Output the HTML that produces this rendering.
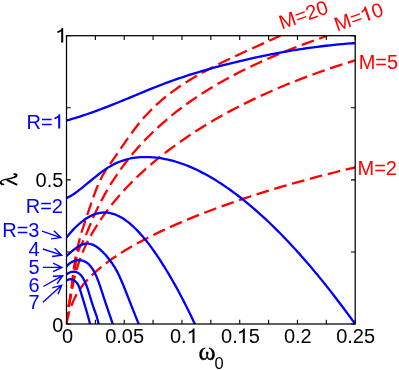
<!DOCTYPE html>
<html><head><meta charset="utf-8"><title>chart</title>
<style>
html,body{margin:0;padding:0;background:#fff;}
svg{display:block;will-change:transform;}
text{font-family:"Liberation Sans",sans-serif;}
</style></head><body>
<svg width="399" height="370" viewBox="0 0 399 370">
<rect width="399" height="370" fill="#fff"/>
<defs><clipPath id="cp"><rect x="66.5" y="35.7" width="288.7" height="288.3"/></clipPath></defs>
<g fill="none" stroke="#ff0000" stroke-width="2.3" clip-path="url(#cp)" stroke-dasharray="13.2 5.8">
<path d="M66.50 324.00 C66.51 323.91 66.52 323.69 66.54 323.46 C66.57 323.23 66.60 322.96 66.65 322.65 C66.70 322.34 66.76 321.99 66.83 321.60 C66.90 321.22 66.98 320.79 67.08 320.34 C67.18 319.89 67.29 319.39 67.41 318.88 C67.53 318.37 67.66 317.82 67.81 317.25 C67.96 316.68 68.12 316.08 68.29 315.46 C68.46 314.84 68.64 314.20 68.83 313.54 C69.02 312.88 69.23 312.20 69.45 311.51 C69.67 310.82 69.90 310.11 70.14 309.39 C70.38 308.67 70.64 307.93 70.91 307.19 C71.18 306.45 71.46 305.70 71.75 304.95 C72.04 304.20 72.34 303.44 72.66 302.68 C72.97 301.92 73.30 301.16 73.64 300.40 C73.98 299.64 74.34 298.89 74.70 298.14 C75.06 297.39 75.44 296.65 75.83 295.91 C76.22 295.18 76.62 294.45 77.03 293.73 C77.44 293.01 77.87 292.31 78.31 291.61 C78.75 290.91 79.20 290.22 79.66 289.54 C80.12 288.86 80.59 288.19 81.08 287.52 C81.56 286.85 82.06 286.19 82.57 285.53 C83.08 284.87 83.61 284.22 84.14 283.58 C84.67 282.94 85.22 282.30 85.78 281.66 C86.34 281.02 86.91 280.39 87.49 279.76 C88.07 279.13 88.67 278.51 89.28 277.89 C89.89 277.27 90.51 276.65 91.14 276.03 C91.77 275.41 92.41 274.79 93.07 274.17 C93.72 273.55 94.39 272.94 95.07 272.33 C95.75 271.72 96.45 271.10 97.15 270.49 C97.86 269.88 98.57 269.26 99.30 268.65 C100.03 268.04 100.78 267.43 101.53 266.82 C102.28 266.21 103.04 265.61 103.82 265.00 C104.60 264.39 105.39 263.79 106.19 263.18 C106.99 262.57 107.80 261.97 108.63 261.37 C109.46 260.77 110.30 260.16 111.15 259.56 C112.00 258.96 112.86 258.36 113.74 257.76 C114.61 257.16 115.50 256.56 116.40 255.96 C117.30 255.36 118.21 254.76 119.13 254.16 C120.05 253.56 120.99 252.97 121.94 252.37 C122.89 251.78 123.85 251.19 124.82 250.59 C125.79 250.00 126.77 249.39 127.77 248.80 C128.76 248.21 129.77 247.62 130.79 247.03 C131.81 246.44 132.84 245.84 133.89 245.25 C134.94 244.66 135.99 244.07 137.06 243.48 C138.13 242.89 139.22 242.30 140.31 241.71 C141.40 241.12 142.50 240.53 143.62 239.94 C144.74 239.35 145.87 238.77 147.01 238.18 C148.15 237.59 149.30 237.01 150.47 236.42 C151.64 235.83 152.82 235.25 154.01 234.66 C155.20 234.07 156.41 233.50 157.62 232.91 C158.84 232.32 160.06 231.74 161.30 231.15 C162.54 230.56 163.79 229.98 165.05 229.40 C166.31 228.82 167.59 228.23 168.88 227.65 C170.17 227.07 171.47 226.48 172.78 225.90 C174.09 225.32 175.41 224.73 176.75 224.15 C178.09 223.57 179.44 222.99 180.80 222.41 C182.16 221.83 183.53 221.24 184.92 220.66 C186.30 220.08 187.70 219.50 189.11 218.92 C190.52 218.34 191.94 217.76 193.37 217.18 C194.80 216.60 196.25 216.02 197.71 215.44 C199.17 214.86 200.64 214.28 202.12 213.70 C203.60 213.12 205.09 212.54 206.60 211.96 C208.11 211.38 209.63 210.81 211.16 210.23 C212.69 209.65 214.23 209.07 215.79 208.50 C217.34 207.93 218.91 207.35 220.49 206.78 C222.07 206.21 223.66 205.62 225.26 205.05 C226.86 204.48 228.48 203.91 230.11 203.34 C231.74 202.77 233.38 202.19 235.03 201.62 C236.68 201.05 238.35 200.48 240.03 199.91 C241.71 199.34 243.39 198.78 245.09 198.21 C246.79 197.64 248.50 197.07 250.23 196.51 C251.95 195.94 253.69 195.38 255.44 194.82 C257.19 194.26 258.96 193.70 260.73 193.14 C262.50 192.58 264.29 192.02 266.09 191.46 C267.89 190.90 269.70 190.34 271.52 189.79 C273.34 189.23 275.17 188.68 277.02 188.13 C278.87 187.58 280.73 187.02 282.60 186.47 C284.47 185.92 286.36 185.38 288.25 184.83 C290.14 184.28 292.05 183.74 293.97 183.19 C295.89 182.64 297.82 182.10 299.76 181.56 C301.70 181.02 303.66 180.48 305.63 179.94 C307.60 179.40 309.58 178.87 311.57 178.33 C313.56 177.80 315.57 177.26 317.59 176.73 C319.61 176.20 321.63 175.67 323.67 175.14 C325.71 174.61 327.76 174.08 329.83 173.56 C331.90 173.04 333.98 172.52 336.07 172.00 C338.16 171.48 340.26 170.96 342.37 170.44 C344.48 169.92 346.61 169.41 348.75 168.90 C350.89 168.39 354.12 167.62 355.20 167.36" stroke-dasharray="12.86 5.64" stroke-dashoffset="18.24"/>
<path d="M66.50 324.00 C66.51 323.99 66.52 324.07 66.54 323.94 C66.57 323.81 66.60 323.54 66.65 323.19 C66.70 322.84 66.76 322.38 66.83 321.83 C66.90 321.28 66.98 320.62 67.08 319.89 C67.18 319.16 67.29 318.33 67.41 317.44 C67.53 316.55 67.66 315.58 67.81 314.54 C67.96 313.50 68.12 312.39 68.29 311.23 C68.46 310.07 68.64 308.85 68.83 307.58 C69.02 306.31 69.23 304.99 69.45 303.63 C69.67 302.27 69.90 300.87 70.14 299.45 C70.38 298.03 70.64 296.56 70.91 295.09 C71.18 293.62 71.46 292.11 71.75 290.60 C72.04 289.09 72.34 287.56 72.66 286.04 C72.97 284.52 73.30 282.99 73.64 281.47 C73.98 279.95 74.34 278.44 74.70 276.94 C75.06 275.44 75.44 273.96 75.83 272.50 C76.22 271.04 76.62 269.61 77.03 268.20 C77.44 266.79 77.87 265.42 78.31 264.07 C78.75 262.72 79.20 261.39 79.66 260.09 C80.12 258.78 80.59 257.50 81.08 256.24 C81.56 254.98 82.06 253.74 82.57 252.51 C83.08 251.28 83.61 250.07 84.14 248.87 C84.67 247.67 85.22 246.49 85.78 245.32 C86.34 244.15 86.91 242.99 87.49 241.84 C88.07 240.69 88.67 239.55 89.28 238.42 C89.89 237.28 90.51 236.16 91.14 235.03 C91.77 233.91 92.41 232.79 93.07 231.67 C93.72 230.55 94.39 229.44 95.07 228.33 C95.75 227.22 96.45 226.11 97.15 225.00 C97.86 223.89 98.57 222.78 99.30 221.68 C100.03 220.58 100.78 219.48 101.53 218.39 C102.28 217.29 103.04 216.20 103.82 215.11 C104.60 214.02 105.39 212.93 106.19 211.84 C106.99 210.75 107.80 209.67 108.63 208.59 C109.46 207.51 110.30 206.43 111.15 205.36 C112.00 204.29 112.86 203.22 113.74 202.15 C114.61 201.08 115.50 200.01 116.40 198.95 C117.30 197.89 118.21 196.83 119.13 195.77 C120.05 194.71 120.99 193.65 121.94 192.60 C122.89 191.55 123.85 190.50 124.82 189.45 C125.79 188.40 126.77 187.36 127.77 186.32 C128.76 185.28 129.77 184.24 130.79 183.20 C131.81 182.16 132.84 181.13 133.89 180.10 C134.94 179.07 135.99 178.05 137.06 177.02 C138.13 176.00 139.22 174.97 140.31 173.95 C141.40 172.93 142.50 171.91 143.62 170.90 C144.74 169.89 145.87 168.87 147.01 167.86 C148.15 166.85 149.30 165.85 150.47 164.85 C151.64 163.85 152.82 162.85 154.01 161.85 C155.20 160.85 156.41 159.85 157.62 158.86 C158.84 157.87 160.06 156.88 161.30 155.89 C162.54 154.90 163.79 153.93 165.05 152.95 C166.31 151.97 167.59 150.98 168.88 150.01 C170.17 149.03 171.47 148.07 172.78 147.10 C174.09 146.13 175.41 145.17 176.75 144.21 C178.09 143.25 179.44 142.29 180.80 141.33 C182.16 140.38 183.53 139.43 184.92 138.48 C186.30 137.53 187.70 136.58 189.11 135.64 C190.52 134.70 191.94 133.76 193.37 132.83 C194.80 131.90 196.25 130.97 197.71 130.04 C199.17 129.11 200.64 128.19 202.12 127.27 C203.60 126.35 205.09 125.43 206.60 124.52 C208.11 123.61 209.63 122.70 211.16 121.79 C212.69 120.89 214.23 119.99 215.79 119.09 C217.34 118.19 218.91 117.30 220.49 116.41 C222.07 115.52 223.66 114.64 225.26 113.76 C226.86 112.88 228.48 112.00 230.11 111.13 C231.74 110.26 233.38 109.38 235.03 108.52 C236.68 107.66 238.35 106.80 240.03 105.94 C241.71 105.08 243.39 104.23 245.09 103.38 C246.79 102.53 248.50 101.70 250.23 100.86 C251.95 100.02 253.69 99.18 255.44 98.35 C257.19 97.52 258.96 96.70 260.73 95.88 C262.50 95.06 264.29 94.24 266.09 93.43 C267.89 92.62 269.70 91.81 271.52 91.01 C273.34 90.21 275.17 89.41 277.02 88.62 C278.87 87.83 280.73 87.03 282.60 86.25 C284.47 85.47 286.36 84.69 288.25 83.92 C290.14 83.15 292.05 82.38 293.97 81.62 C295.89 80.86 297.82 80.09 299.76 79.34 C301.70 78.59 303.66 77.84 305.63 77.10 C307.60 76.36 309.58 75.62 311.57 74.89 C313.56 74.16 315.57 73.43 317.59 72.71 C319.61 71.99 321.63 71.27 323.67 70.56 C325.71 69.85 327.76 69.14 329.83 68.44 C331.90 67.74 333.98 67.05 336.07 66.36 C338.16 65.67 340.26 64.99 342.37 64.31 C344.48 63.63 346.61 62.97 348.75 62.30 C350.89 61.63 354.12 60.64 355.20 60.31" stroke-dasharray="12.95 5.70" stroke-dashoffset="1.25"/>
<path d="M66.50 324.00 C66.50 323.49 66.51 321.88 66.53 320.93 C66.55 319.98 66.58 319.13 66.63 318.31 C66.67 317.49 66.73 316.75 66.80 316.03 C66.87 315.31 66.94 314.64 67.03 313.98 C67.12 313.32 67.21 312.69 67.32 312.05 C67.43 311.41 67.55 310.79 67.68 310.14 C67.81 309.49 67.96 308.84 68.11 308.14 C68.26 307.44 68.42 306.72 68.60 305.93 C68.77 305.14 68.96 304.33 69.16 303.43 C69.36 302.53 69.57 301.57 69.79 300.51 C70.01 299.45 70.24 298.32 70.48 297.07 C70.72 295.82 70.97 294.49 71.23 293.01 C71.49 291.53 71.77 289.95 72.05 288.21 C72.33 286.47 72.63 284.61 72.94 282.57 C73.25 280.53 73.56 278.32 73.89 275.97 C74.22 273.62 74.56 270.94 74.91 268.46 C75.26 265.98 75.63 263.30 76.00 261.09 C76.37 258.88 76.76 256.91 77.15 255.21 C77.54 253.51 77.94 252.14 78.36 250.88 C78.78 249.62 79.20 248.61 79.64 247.62 C80.08 246.63 80.53 245.83 80.99 244.96 C81.45 244.09 81.93 243.33 82.41 242.42 C82.89 241.51 83.38 240.57 83.88 239.52 C84.38 238.47 84.90 237.33 85.43 236.14 C85.96 234.95 86.49 233.68 87.04 232.37 C87.59 231.06 88.14 229.69 88.71 228.31 C89.28 226.93 89.87 225.50 90.46 224.08 C91.05 222.66 91.65 221.21 92.26 219.78 C92.87 218.35 93.50 216.92 94.14 215.50 C94.78 214.08 95.42 212.67 96.08 211.27 C96.74 209.87 97.40 208.48 98.08 207.09 C98.76 205.70 99.45 204.32 100.15 202.95 C100.85 201.58 101.57 200.22 102.29 198.86 C103.01 197.51 103.74 196.16 104.49 194.82 C105.23 193.48 105.99 192.14 106.76 190.82 C107.53 189.50 108.30 188.18 109.09 186.87 C109.88 185.56 110.68 184.25 111.49 182.96 C112.30 181.67 113.12 180.38 113.95 179.10 C114.78 177.82 115.62 176.55 116.48 175.28 C117.34 174.01 118.20 172.76 119.08 171.51 C119.96 170.26 120.84 169.01 121.74 167.78 C122.64 166.55 123.55 165.32 124.47 164.10 C125.39 162.88 126.32 161.67 127.26 160.46 C128.20 159.25 129.16 158.06 130.12 156.87 C131.09 155.68 132.06 154.50 133.05 153.32 C134.04 152.14 135.03 150.98 136.04 149.82 C137.05 148.66 138.06 147.51 139.09 146.36 C140.12 145.22 141.16 144.08 142.21 142.95 C143.26 141.82 144.33 140.70 145.40 139.58 C146.47 138.46 147.56 137.35 148.66 136.25 C149.75 135.15 150.85 134.06 151.97 132.97 C153.09 131.88 154.22 130.80 155.36 129.73 C156.50 128.66 157.65 127.59 158.81 126.53 C159.97 125.47 161.15 124.42 162.33 123.38 C163.51 122.34 164.70 121.30 165.91 120.27 C167.12 119.24 168.33 118.22 169.56 117.20 C170.79 116.19 172.02 115.18 173.27 114.18 C174.52 113.18 175.78 112.19 177.05 111.20 C178.32 110.21 179.60 109.23 180.89 108.26 C182.18 107.29 183.49 106.32 184.80 105.36 C186.12 104.40 187.44 103.45 188.78 102.50 C190.12 101.55 191.46 100.61 192.82 99.68 C194.18 98.75 195.55 97.82 196.93 96.90 C198.31 95.98 199.70 95.07 201.10 94.16 C202.50 93.25 203.91 92.35 205.34 91.45 C206.77 90.55 208.20 89.66 209.65 88.78 C211.10 87.90 212.55 87.02 214.02 86.15 C215.49 85.28 216.96 84.41 218.45 83.55 C219.94 82.69 221.45 81.84 222.96 80.99 C224.47 80.14 225.99 79.30 227.52 78.46 C229.05 77.62 230.60 76.80 232.16 75.97 C233.72 75.14 235.28 74.32 236.86 73.50 C238.44 72.68 240.02 71.88 241.62 71.07 C243.22 70.26 244.83 69.46 246.45 68.67 C248.07 67.88 249.71 67.09 251.35 66.31 C252.99 65.53 254.65 64.75 256.31 63.97 C257.98 63.20 259.65 62.42 261.34 61.66 C263.03 60.89 264.72 60.14 266.43 59.38 C268.14 58.62 269.86 57.88 271.59 57.13 C273.32 56.38 275.07 55.64 276.82 54.90 C278.57 54.16 280.34 53.44 282.11 52.71 C283.88 51.98 285.66 51.25 287.46 50.53 C289.26 49.81 291.07 49.10 292.89 48.39 C294.71 47.68 296.53 46.97 298.37 46.27 C300.21 45.57 302.07 44.87 303.93 44.17 C305.79 43.48 307.67 42.79 309.55 42.10 C311.43 41.41 313.33 40.72 315.23 40.04 C317.13 39.36 319.05 38.68 320.98 38.01 C322.91 37.34 325.83 36.34 326.80 36.01" stroke-dasharray="12.95 5.65" stroke-dashoffset="1.30"/>
<path d="M66.50 324.00 C66.50 323.60 66.51 322.35 66.53 321.60 C66.55 320.85 66.58 320.17 66.61 319.52 C66.64 318.87 66.69 318.27 66.74 317.68 C66.79 317.09 66.86 316.52 66.93 315.96 C67.00 315.39 67.09 314.86 67.18 314.29 C67.27 313.72 67.36 313.15 67.47 312.54 C67.58 311.93 67.69 311.32 67.82 310.64 C67.95 309.96 68.09 309.26 68.23 308.48 C68.38 307.70 68.53 306.88 68.69 305.96 C68.85 305.04 69.02 304.06 69.20 302.98 C69.38 301.90 69.57 300.74 69.77 299.45 C69.97 298.16 70.17 296.79 70.39 295.27 C70.61 293.75 70.83 292.12 71.07 290.34 C71.30 288.56 71.55 286.61 71.80 284.57 C72.05 282.53 72.31 280.27 72.58 278.08 C72.85 275.88 73.13 273.57 73.42 271.40 C73.71 269.23 74.00 267.10 74.31 265.07 C74.62 263.04 74.93 261.11 75.25 259.23 C75.57 257.35 75.91 255.54 76.25 253.79 C76.59 252.04 76.95 250.36 77.31 248.72 C77.67 247.08 78.03 245.49 78.41 243.94 C78.79 242.39 79.18 240.88 79.58 239.40 C79.98 237.92 80.38 236.47 80.79 235.03 C81.20 233.59 81.63 232.19 82.06 230.78 C82.49 229.37 82.94 227.98 83.39 226.58 C83.84 225.18 84.29 223.78 84.76 222.37 C85.23 220.96 85.71 219.55 86.20 218.10 C86.69 216.65 87.18 215.19 87.68 213.69 C88.18 212.19 88.70 210.66 89.22 209.11 C89.74 207.56 90.28 205.97 90.82 204.39 C91.36 202.80 91.90 201.19 92.46 199.60 C93.02 198.01 93.59 196.40 94.17 194.83 C94.75 193.26 95.33 191.69 95.92 190.16 C96.51 188.63 97.12 187.13 97.73 185.68 C98.34 184.23 98.97 182.81 99.60 181.46 C100.23 180.11 100.86 178.82 101.51 177.58 C102.16 176.34 102.82 175.16 103.49 174.01 C104.16 172.86 104.83 171.77 105.51 170.68 C106.19 169.59 106.89 168.54 107.59 167.49 C108.29 166.44 109.01 165.42 109.73 164.39 C110.45 163.36 111.18 162.34 111.92 161.29 C112.66 160.24 113.41 159.19 114.16 158.11 C114.91 157.03 115.68 155.93 116.45 154.81 C117.22 153.69 118.01 152.54 118.80 151.39 C119.59 150.23 120.40 149.06 121.21 147.88 C122.02 146.70 122.84 145.50 123.67 144.30 C124.50 143.10 125.33 141.88 126.18 140.67 C127.03 139.46 127.89 138.23 128.75 137.02 C129.62 135.81 130.49 134.60 131.37 133.39 C132.25 132.18 133.14 130.97 134.04 129.78 C134.94 128.59 135.85 127.39 136.77 126.22 C137.69 125.05 138.61 123.88 139.55 122.74 C140.49 121.60 141.44 120.48 142.39 119.37 C143.34 118.26 144.31 117.17 145.28 116.10 C146.25 115.03 147.24 113.97 148.23 112.93 C149.22 111.89 150.21 110.86 151.22 109.85 C152.23 108.84 153.25 107.85 154.28 106.87 C155.31 105.89 156.33 104.92 157.38 103.97 C158.43 103.02 159.49 102.08 160.55 101.16 C161.61 100.24 162.68 99.33 163.76 98.43 C164.84 97.53 165.93 96.64 167.03 95.77 C168.13 94.90 169.23 94.04 170.35 93.19 C171.47 92.34 172.59 91.50 173.73 90.67 C174.86 89.84 176.01 89.03 177.16 88.22 C178.31 87.41 179.48 86.61 180.65 85.82 C181.82 85.03 183.00 84.26 184.19 83.49 C185.38 82.72 186.57 81.95 187.78 81.20 C188.99 80.45 190.21 79.70 191.43 78.96 C192.66 78.22 193.89 77.49 195.13 76.76 C196.37 76.03 197.62 75.31 198.88 74.60 C200.14 73.89 201.41 73.18 202.69 72.48 C203.97 71.78 205.26 71.08 206.56 70.39 C207.86 69.70 209.16 69.00 210.47 68.32 C211.78 67.63 213.11 66.96 214.44 66.28 C215.77 65.60 217.12 64.93 218.47 64.26 C219.82 63.59 221.18 62.92 222.55 62.25 C223.92 61.58 225.29 60.91 226.68 60.25 C228.07 59.59 229.47 58.92 230.87 58.26 C232.28 57.60 233.69 56.93 235.11 56.27 C236.53 55.61 237.97 54.94 239.41 54.28 C240.85 53.62 242.30 52.96 243.76 52.29 C245.22 51.62 246.68 50.95 248.16 50.28 C249.64 49.61 251.12 48.94 252.62 48.26 C254.12 47.58 255.62 46.91 257.13 46.23 C258.64 45.55 260.17 44.86 261.70 44.17 C263.23 43.48 264.77 42.78 266.32 42.08 C267.87 41.38 269.42 40.68 270.99 39.97 C272.56 39.26 274.14 38.54 275.72 37.82 C277.31 37.10 279.70 36.00 280.50 35.63" stroke-dasharray="13.00 5.70" stroke-dashoffset="0.90"/>
</g>
<g fill="none" stroke="#0000ff" stroke-width="2.3" clip-path="url(#cp)" stroke-linejoin="round">
<path d="M66.50 120.45 C67.20 120.26 69.29 119.70 70.68 119.30 C72.08 118.90 73.48 118.49 74.87 118.07 C76.27 117.65 77.66 117.23 79.05 116.79 C80.44 116.35 81.84 115.90 83.24 115.44 C84.63 114.98 86.03 114.51 87.42 114.03 C88.81 113.55 90.20 113.07 91.60 112.58 C92.99 112.09 94.40 111.58 95.79 111.07 C97.19 110.56 98.58 110.05 99.97 109.53 C101.36 109.01 102.77 108.47 104.16 107.94 C105.55 107.41 106.95 106.87 108.34 106.32 C109.73 105.77 111.12 105.22 112.52 104.66 C113.91 104.10 115.31 103.54 116.71 102.98 C118.10 102.42 119.50 101.85 120.89 101.28 C122.28 100.71 123.69 100.14 125.08 99.56 C126.47 98.98 127.87 98.41 129.26 97.83 C130.65 97.25 132.04 96.66 133.44 96.08 C134.84 95.50 136.23 94.92 137.63 94.34 C139.03 93.76 140.41 93.18 141.81 92.60 C143.21 92.02 144.60 91.45 146.00 90.88 C147.40 90.31 148.78 89.73 150.18 89.17 C151.58 88.61 152.97 88.04 154.37 87.49 C155.77 86.94 157.16 86.38 158.55 85.84 C159.94 85.30 161.33 84.76 162.73 84.23 C164.12 83.70 165.52 83.18 166.92 82.66 C168.31 82.14 169.70 81.63 171.10 81.13 C172.50 80.63 173.89 80.14 175.29 79.65 C176.69 79.16 178.08 78.69 179.47 78.21 C180.86 77.73 182.25 77.26 183.65 76.80 C185.05 76.34 186.44 75.88 187.84 75.43 C189.24 74.98 190.62 74.54 192.02 74.10 C193.42 73.66 194.81 73.23 196.21 72.80 C197.61 72.37 199.00 71.96 200.39 71.54 C201.78 71.12 203.17 70.72 204.57 70.31 C205.97 69.91 207.36 69.50 208.76 69.11 C210.16 68.72 211.54 68.33 212.94 67.94 C214.34 67.55 215.73 67.17 217.13 66.80 C218.53 66.42 219.92 66.05 221.31 65.69 C222.70 65.33 224.09 64.97 225.49 64.61 C226.89 64.25 228.28 63.90 229.68 63.55 C231.08 63.20 232.47 62.86 233.86 62.52 C235.26 62.18 236.66 61.84 238.05 61.51 C239.44 61.18 240.84 60.84 242.23 60.52 C243.62 60.20 245.01 59.88 246.41 59.56 C247.81 59.24 249.20 58.93 250.60 58.62 C252.00 58.31 253.38 58.00 254.78 57.70 C256.18 57.40 257.58 57.10 258.97 56.80 C260.37 56.50 261.76 56.21 263.15 55.92 C264.54 55.63 265.94 55.35 267.33 55.07 C268.72 54.79 270.12 54.51 271.52 54.24 C272.91 53.97 274.31 53.70 275.70 53.44 C277.09 53.18 278.50 52.92 279.89 52.66 C281.28 52.40 282.68 52.15 284.07 51.90 C285.46 51.65 286.87 51.41 288.26 51.17 C289.65 50.93 291.05 50.69 292.44 50.46 C293.83 50.23 295.23 50.00 296.62 49.78 C298.01 49.56 299.42 49.33 300.81 49.12 C302.20 48.91 303.60 48.70 304.99 48.49 C306.38 48.29 307.79 48.09 309.18 47.89 C310.57 47.69 311.97 47.50 313.36 47.31 C314.75 47.12 316.15 46.95 317.54 46.77 C318.94 46.59 320.34 46.41 321.73 46.24 C323.12 46.07 324.52 45.91 325.91 45.75 C327.31 45.59 328.71 45.43 330.10 45.28 C331.50 45.13 332.89 44.99 334.28 44.85 C335.67 44.71 337.06 44.57 338.46 44.44 C339.85 44.31 341.25 44.18 342.65 44.06 C344.04 43.94 345.44 43.81 346.83 43.70 C348.22 43.59 349.62 43.48 351.02 43.38 C352.41 43.28 354.50 43.14 355.20 43.09"/>
<path d="M66.50 198.18 C67.20 197.80 69.29 196.73 70.68 195.90 C72.08 195.07 73.48 194.16 74.87 193.20 C76.27 192.24 77.66 191.22 79.05 190.17 C80.44 189.12 81.84 188.02 83.24 186.90 C84.63 185.78 86.03 184.63 87.42 183.48 C88.81 182.33 90.20 181.16 91.60 180.00 C92.99 178.84 94.40 177.68 95.79 176.55 C97.19 175.42 98.58 174.31 99.97 173.24 C101.36 172.17 102.77 171.13 104.16 170.15 C105.55 169.17 106.95 168.23 108.34 167.36 C109.73 166.49 111.12 165.69 112.52 164.95 C113.91 164.21 115.31 163.53 116.71 162.91 C118.10 162.29 119.50 161.72 120.89 161.21 C122.28 160.70 123.69 160.24 125.08 159.83 C126.47 159.42 127.87 159.06 129.26 158.75 C130.65 158.44 132.04 158.17 133.44 157.95 C134.84 157.73 136.23 157.55 137.63 157.41 C139.03 157.27 140.41 157.17 141.81 157.11 C143.21 157.05 144.60 157.03 146.00 157.03 C147.40 157.03 148.78 157.07 150.18 157.14 C151.58 157.21 152.97 157.31 154.37 157.44 C155.77 157.57 157.16 157.72 158.55 157.91 C159.94 158.10 161.33 158.31 162.73 158.56 C164.12 158.81 165.52 159.08 166.92 159.38 C168.31 159.68 169.70 160.01 171.10 160.37 C172.50 160.73 173.89 161.11 175.29 161.52 C176.69 161.93 178.08 162.36 179.47 162.82 C180.86 163.28 182.25 163.78 183.65 164.29 C185.05 164.80 186.44 165.34 187.84 165.90 C189.24 166.46 190.62 167.06 192.02 167.67 C193.42 168.28 194.81 168.91 196.21 169.57 C197.61 170.23 199.00 170.91 200.39 171.62 C201.78 172.33 203.17 173.05 204.57 173.80 C205.97 174.55 207.36 175.33 208.76 176.12 C210.16 176.91 211.54 177.72 212.94 178.56 C214.34 179.40 215.73 180.25 217.13 181.13 C218.53 182.01 219.92 182.91 221.31 183.82 C222.70 184.73 224.09 185.67 225.49 186.62 C226.89 187.57 228.28 188.55 229.68 189.54 C231.08 190.53 232.47 191.54 233.86 192.57 C235.26 193.60 236.66 194.65 238.05 195.72 C239.44 196.79 240.84 197.87 242.23 198.97 C243.62 200.07 245.01 201.20 246.41 202.34 C247.81 203.48 249.20 204.63 250.60 205.81 C252.00 206.99 253.38 208.18 254.78 209.39 C256.18 210.60 257.58 211.83 258.97 213.08 C260.37 214.33 261.76 215.59 263.15 216.87 C264.54 218.15 265.94 219.45 267.33 220.76 C268.72 222.07 270.12 223.40 271.52 224.75 C272.91 226.10 274.31 227.47 275.70 228.85 C277.09 230.23 278.50 231.63 279.89 233.04 C281.28 234.45 282.68 235.88 284.07 237.33 C285.46 238.78 286.87 240.24 288.26 241.72 C289.65 243.20 291.05 244.69 292.44 246.20 C293.83 247.71 295.23 249.24 296.62 250.78 C298.01 252.32 299.42 253.88 300.81 255.45 C302.20 257.02 303.60 258.61 304.99 260.21 C306.38 261.81 307.79 263.43 309.18 265.06 C310.57 266.69 311.97 268.34 313.36 270.00 C314.75 271.66 316.15 273.34 317.54 275.03 C318.94 276.72 320.34 278.42 321.73 280.14 C323.12 281.86 324.52 283.59 325.91 285.34 C327.31 287.09 328.71 288.85 330.10 290.62 C331.50 292.39 332.89 294.19 334.28 295.99 C335.67 297.79 337.06 299.60 338.46 301.43 C339.85 303.26 341.25 305.10 342.65 306.96 C344.04 308.82 345.44 310.69 346.83 312.57 C348.22 314.45 349.62 316.34 351.02 318.25 C352.41 320.16 354.17 322.59 355.20 324.01 C356.23 325.43 356.87 326.30 357.20 326.76"/>
<path d="M66.50 237.43 C66.81 237.05 67.74 235.90 68.36 235.16 C68.98 234.42 69.60 233.69 70.22 232.98 C70.84 232.27 71.46 231.58 72.08 230.90 C72.70 230.22 73.32 229.56 73.94 228.92 C74.56 228.28 75.18 227.66 75.80 227.05 C76.42 226.44 77.04 225.85 77.66 225.28 C78.28 224.71 78.90 224.16 79.52 223.62 C80.14 223.09 80.76 222.57 81.38 222.07 C82.00 221.57 82.62 221.09 83.24 220.63 C83.86 220.17 84.48 219.72 85.10 219.30 C85.72 218.88 86.34 218.47 86.96 218.09 C87.58 217.71 88.19 217.34 88.81 216.99 C89.43 216.64 90.05 216.31 90.67 216.00 C91.29 215.69 91.91 215.41 92.53 215.14 C93.15 214.87 93.77 214.62 94.39 214.39 C95.01 214.16 95.63 213.96 96.25 213.77 C96.87 213.58 97.49 213.42 98.11 213.27 C98.73 213.12 99.35 213.00 99.97 212.89 C100.59 212.78 101.21 212.70 101.83 212.64 C102.45 212.58 103.07 212.54 103.69 212.52 C104.31 212.50 104.93 212.50 105.55 212.52 C106.17 212.54 106.79 212.59 107.41 212.66 C108.03 212.73 108.65 212.81 109.27 212.92 C109.89 213.03 110.51 213.15 111.13 213.30 C111.75 213.45 112.37 213.62 112.99 213.81 C113.61 214.00 114.23 214.20 114.85 214.43 C115.47 214.66 116.09 214.91 116.71 215.18 C117.33 215.45 117.95 215.73 118.57 216.03 C119.19 216.33 119.81 216.66 120.43 217.00 C121.05 217.34 121.67 217.70 122.29 218.08 C122.91 218.46 123.53 218.85 124.15 219.26 C124.77 219.67 125.39 220.11 126.01 220.56 C126.63 221.01 127.25 221.47 127.87 221.95 C128.49 222.43 129.11 222.93 129.73 223.44 C130.35 223.95 130.97 224.49 131.59 225.04 C132.21 225.59 132.82 226.15 133.44 226.73 C134.06 227.31 134.68 227.90 135.30 228.51 C135.92 229.12 136.54 229.74 137.16 230.38 C137.78 231.02 138.40 231.68 139.02 232.35 C139.64 233.02 140.26 233.70 140.88 234.40 C141.50 235.10 142.12 235.81 142.74 236.53 C143.36 237.25 143.98 238.00 144.60 238.75 C145.22 239.50 145.84 240.27 146.46 241.05 C147.08 241.83 147.70 242.61 148.32 243.42 C148.94 244.22 149.56 245.05 150.18 245.88 C150.80 246.71 151.42 247.55 152.04 248.40 C152.66 249.25 153.28 250.12 153.90 251.00 C154.52 251.88 155.14 252.77 155.76 253.67 C156.38 254.57 157.00 255.49 157.62 256.41 C158.24 257.33 158.86 258.26 159.48 259.21 C160.10 260.15 160.72 261.11 161.34 262.08 C161.96 263.05 162.58 264.02 163.20 265.01 C163.82 266.00 164.44 267.00 165.06 268.00 C165.68 269.00 166.30 270.02 166.92 271.04 C167.54 272.06 168.16 273.10 168.78 274.15 C169.40 275.19 170.02 276.25 170.64 277.31 C171.26 278.38 171.88 279.46 172.50 280.54 C173.12 281.62 173.74 282.72 174.36 283.82 C174.98 284.92 175.60 286.04 176.22 287.16 C176.84 288.29 177.45 289.43 178.07 290.57 C178.69 291.71 179.31 292.86 179.93 294.03 C180.55 295.19 181.17 296.37 181.79 297.56 C182.41 298.75 183.03 299.94 183.65 301.15 C184.27 302.36 184.89 303.57 185.51 304.80 C186.13 306.03 186.75 307.26 187.37 308.51 C187.99 309.76 188.61 311.01 189.23 312.28 C189.85 313.55 190.47 314.83 191.09 316.12 C191.71 317.41 192.33 318.71 192.95 320.02 C193.57 321.33 194.17 322.62 194.81 323.99 C195.45 325.36 196.48 327.54 196.81 328.25"/>
<path d="M66.50 256.00 C66.67 255.84 67.20 255.37 67.55 255.05 C67.90 254.74 68.24 254.42 68.59 254.11 C68.94 253.80 69.29 253.49 69.64 253.18 C69.99 252.87 70.33 252.57 70.68 252.27 C71.03 251.97 71.38 251.67 71.73 251.37 C72.08 251.07 72.43 250.78 72.78 250.50 C73.13 250.22 73.47 249.94 73.82 249.66 C74.17 249.38 74.52 249.11 74.87 248.85 C75.22 248.59 75.56 248.33 75.91 248.08 C76.26 247.83 76.61 247.58 76.96 247.35 C77.31 247.12 77.66 246.90 78.01 246.68 C78.36 246.46 78.70 246.25 79.05 246.05 C79.40 245.85 79.75 245.67 80.10 245.49 C80.45 245.31 80.79 245.14 81.14 244.98 C81.49 244.82 81.84 244.68 82.19 244.55 C82.54 244.42 82.89 244.30 83.24 244.19 C83.59 244.08 83.93 243.98 84.28 243.90 C84.63 243.82 84.98 243.75 85.33 243.70 C85.68 243.65 86.02 243.61 86.37 243.58 C86.72 243.56 87.07 243.55 87.42 243.55 C87.77 243.56 88.12 243.58 88.47 243.61 C88.82 243.65 89.16 243.70 89.51 243.76 C89.86 243.82 90.21 243.90 90.56 243.99 C90.91 244.08 91.25 244.17 91.60 244.29 C91.95 244.41 92.30 244.54 92.65 244.68 C93.00 244.82 93.35 244.97 93.70 245.14 C94.05 245.31 94.39 245.49 94.74 245.68 C95.09 245.87 95.44 246.07 95.79 246.28 C96.14 246.49 96.48 246.72 96.83 246.96 C97.18 247.20 97.53 247.44 97.88 247.70 C98.23 247.96 98.58 248.23 98.93 248.51 C99.28 248.79 99.62 249.08 99.97 249.38 C100.32 249.68 100.67 249.98 101.02 250.30 C101.37 250.62 101.71 250.95 102.06 251.29 C102.41 251.63 102.76 251.98 103.11 252.34 C103.46 252.70 103.81 253.06 104.16 253.43 C104.51 253.80 104.85 254.19 105.20 254.58 C105.55 254.97 105.90 255.37 106.25 255.78 C106.60 256.19 106.94 256.60 107.29 257.02 C107.64 257.44 107.99 257.87 108.34 258.31 C108.69 258.75 109.04 259.19 109.39 259.64 C109.74 260.09 110.08 260.55 110.43 261.02 C110.78 261.49 111.13 261.97 111.48 262.46 C111.83 262.95 112.17 263.44 112.52 263.96 C112.87 264.47 113.22 265.01 113.57 265.55 C113.92 266.09 114.27 266.65 114.62 267.22 C114.97 267.79 115.31 268.38 115.66 268.98 C116.01 269.59 116.36 270.21 116.71 270.85 C117.06 271.49 117.40 272.15 117.75 272.83 C118.10 273.51 118.45 274.22 118.80 274.94 C119.15 275.66 119.50 276.40 119.85 277.16 C120.20 277.92 120.54 278.70 120.89 279.50 C121.24 280.30 121.59 281.11 121.94 281.93 C122.29 282.75 122.63 283.59 122.98 284.43 C123.33 285.27 123.68 286.14 124.03 287.00 C124.38 287.86 124.73 288.74 125.08 289.61 C125.43 290.49 125.77 291.37 126.12 292.25 C126.47 293.13 126.82 294.02 127.17 294.91 C127.52 295.80 127.86 296.68 128.21 297.57 C128.56 298.46 128.91 299.35 129.26 300.24 C129.61 301.13 129.96 302.01 130.31 302.90 C130.66 303.79 131.00 304.68 131.35 305.57 C131.70 306.46 132.05 307.35 132.40 308.23 C132.75 309.12 133.09 310.00 133.44 310.88 C133.79 311.76 134.14 312.64 134.49 313.52 C134.84 314.40 135.19 315.28 135.54 316.16 C135.89 317.04 136.23 317.92 136.58 318.79 C136.93 319.66 137.28 320.53 137.63 321.40 C137.98 322.27 138.17 322.74 138.68 324.00 C139.19 325.26 140.35 328.13 140.68 328.96"/>
<path d="M66.50 266.50 C66.61 266.38 66.95 265.99 67.17 265.75 C67.39 265.51 67.62 265.27 67.84 265.05 C68.06 264.83 68.29 264.62 68.51 264.41 C68.73 264.21 68.96 264.01 69.18 263.82 C69.40 263.63 69.63 263.45 69.85 263.28 C70.07 263.11 70.30 262.95 70.52 262.80 C70.74 262.65 70.97 262.50 71.19 262.36 C71.41 262.22 71.64 262.09 71.86 261.97 C72.08 261.85 72.31 261.73 72.53 261.62 C72.75 261.51 72.97 261.41 73.19 261.32 C73.41 261.23 73.64 261.14 73.86 261.06 C74.08 260.98 74.31 260.91 74.53 260.84 C74.75 260.77 74.98 260.71 75.20 260.66 C75.42 260.61 75.65 260.56 75.87 260.52 C76.09 260.48 76.32 260.43 76.54 260.40 C76.76 260.37 76.99 260.35 77.21 260.33 C77.43 260.31 77.66 260.29 77.88 260.28 C78.10 260.27 78.33 260.26 78.55 260.26 C78.77 260.26 79.00 260.26 79.22 260.27 C79.44 260.28 79.67 260.29 79.89 260.30 C80.11 260.31 80.34 260.34 80.56 260.36 C80.78 260.38 81.01 260.41 81.23 260.45 C81.45 260.49 81.68 260.52 81.90 260.57 C82.12 260.62 82.35 260.67 82.57 260.72 C82.79 260.78 83.02 260.83 83.24 260.90 C83.46 260.97 83.69 261.05 83.91 261.13 C84.13 261.21 84.36 261.30 84.58 261.40 C84.80 261.50 85.02 261.60 85.24 261.71 C85.46 261.82 85.69 261.95 85.91 262.08 C86.13 262.21 86.36 262.34 86.58 262.49 C86.80 262.64 87.03 262.79 87.25 262.96 C87.47 263.13 87.70 263.30 87.92 263.49 C88.14 263.68 88.37 263.87 88.59 264.08 C88.81 264.29 89.04 264.50 89.26 264.73 C89.48 264.96 89.71 265.20 89.93 265.45 C90.15 265.70 90.38 265.97 90.60 266.24 C90.82 266.51 91.05 266.80 91.27 267.10 C91.49 267.40 91.72 267.70 91.94 268.03 C92.16 268.35 92.39 268.70 92.61 269.05 C92.83 269.40 93.06 269.76 93.28 270.14 C93.50 270.52 93.73 270.92 93.95 271.33 C94.17 271.74 94.40 272.16 94.62 272.60 C94.84 273.04 95.07 273.48 95.29 273.95 C95.51 274.42 95.74 274.90 95.96 275.40 C96.18 275.90 96.41 276.40 96.63 276.93 C96.85 277.46 97.07 278.00 97.29 278.55 C97.51 279.10 97.74 279.67 97.96 280.25 C98.18 280.83 98.41 281.42 98.63 282.03 C98.85 282.64 99.08 283.26 99.30 283.89 C99.52 284.52 99.75 285.16 99.97 285.82 C100.19 286.48 100.42 287.15 100.64 287.82 C100.86 288.49 101.09 289.17 101.31 289.85 C101.53 290.53 101.76 291.22 101.98 291.91 C102.20 292.60 102.43 293.29 102.65 293.97 C102.87 294.66 103.10 295.34 103.32 296.02 C103.54 296.70 103.77 297.38 103.99 298.06 C104.21 298.74 104.44 299.41 104.66 300.08 C104.88 300.75 105.11 301.41 105.33 302.08 C105.55 302.75 105.78 303.41 106.00 304.08 C106.22 304.75 106.45 305.41 106.67 306.07 C106.89 306.73 107.12 307.40 107.34 308.06 C107.56 308.72 107.79 309.38 108.01 310.04 C108.23 310.70 108.46 311.36 108.68 312.02 C108.90 312.68 109.12 313.34 109.34 314.00 C109.56 314.66 109.79 315.33 110.01 315.99 C110.23 316.65 110.46 317.32 110.68 317.98 C110.90 318.64 111.13 319.30 111.35 319.97 C111.57 320.64 111.80 321.31 112.02 321.98 C112.24 322.65 112.25 322.66 112.69 324.00 C113.13 325.34 114.36 329.02 114.69 330.03"/>
<path d="M66.50 274.60 C66.58 274.53 66.80 274.33 66.96 274.20 C67.11 274.07 67.28 273.95 67.43 273.83 C67.59 273.71 67.73 273.60 67.89 273.49 C68.05 273.38 68.20 273.28 68.36 273.19 C68.52 273.10 68.66 273.00 68.82 272.92 C68.97 272.84 69.14 272.75 69.29 272.68 C69.45 272.61 69.59 272.54 69.75 272.47 C69.91 272.40 70.06 272.34 70.22 272.28 C70.38 272.22 70.53 272.18 70.68 272.13 C70.84 272.08 71.00 272.04 71.15 272.00 C71.31 271.96 71.45 271.93 71.61 271.90 C71.77 271.87 71.92 271.84 72.08 271.82 C72.23 271.80 72.39 271.77 72.54 271.76 C72.70 271.75 72.86 271.74 73.01 271.73 C73.17 271.72 73.31 271.72 73.47 271.72 C73.62 271.72 73.78 271.72 73.94 271.73 C74.09 271.74 74.25 271.75 74.40 271.76 C74.56 271.77 74.72 271.79 74.87 271.81 C75.03 271.83 75.17 271.86 75.33 271.89 C75.48 271.92 75.64 271.94 75.80 271.98 C75.95 272.02 76.11 272.06 76.26 272.10 C76.42 272.15 76.58 272.19 76.73 272.25 C76.89 272.31 77.03 272.36 77.19 272.43 C77.34 272.50 77.50 272.57 77.66 272.65 C77.81 272.73 77.97 272.80 78.12 272.89 C78.28 272.98 78.44 273.07 78.59 273.17 C78.75 273.27 78.89 273.38 79.05 273.49 C79.20 273.61 79.36 273.73 79.52 273.86 C79.67 273.99 79.83 274.12 79.98 274.26 C80.14 274.40 80.30 274.55 80.45 274.71 C80.61 274.87 80.75 275.03 80.91 275.20 C81.06 275.37 81.22 275.55 81.38 275.74 C81.53 275.93 81.69 276.13 81.84 276.34 C82.00 276.55 82.16 276.76 82.31 276.98 C82.47 277.20 82.61 277.44 82.77 277.68 C82.92 277.92 83.08 278.18 83.24 278.44 C83.39 278.70 83.55 278.97 83.70 279.25 C83.86 279.53 84.02 279.83 84.17 280.13 C84.33 280.43 84.47 280.75 84.63 281.07 C84.78 281.39 84.94 281.73 85.10 282.08 C85.25 282.43 85.41 282.78 85.56 283.15 C85.72 283.52 85.88 283.90 86.03 284.29 C86.19 284.68 86.33 285.09 86.49 285.50 C86.64 285.91 86.80 286.34 86.96 286.78 C87.11 287.22 87.27 287.67 87.42 288.13 C87.58 288.59 87.73 289.06 87.89 289.53 C88.05 290.00 88.20 290.48 88.35 290.97 C88.50 291.46 88.66 291.95 88.81 292.45 C88.97 292.95 89.12 293.45 89.28 293.96 C89.44 294.47 89.58 294.98 89.74 295.49 C89.89 296.00 90.05 296.52 90.21 297.03 C90.36 297.54 90.52 298.06 90.67 298.57 C90.83 299.08 90.98 299.60 91.14 300.11 C91.30 300.62 91.44 301.13 91.60 301.63 C91.75 302.13 91.91 302.63 92.07 303.13 C92.22 303.62 92.38 304.12 92.53 304.60 C92.69 305.08 92.84 305.56 93.00 306.03 C93.16 306.50 93.30 306.96 93.46 307.41 C93.61 307.86 93.78 308.30 93.93 308.73 C94.09 309.16 94.23 309.58 94.39 310.01 C94.55 310.44 94.70 310.86 94.86 311.28 C95.02 311.70 95.16 312.12 95.32 312.55 C95.47 312.98 95.64 313.42 95.79 313.87 C95.95 314.32 96.09 314.77 96.25 315.24 C96.41 315.71 96.56 316.20 96.72 316.71 C96.88 317.22 97.03 317.74 97.18 318.29 C97.34 318.84 97.50 319.42 97.65 320.02 C97.81 320.62 97.95 321.25 98.11 321.91 C98.27 322.57 98.17 322.15 98.58 324.00 C98.99 325.85 100.25 331.48 100.58 332.98"/>
<path d="M66.50 280.50 C66.56 280.47 66.73 280.37 66.84 280.30 C66.95 280.24 67.07 280.17 67.18 280.11 C67.29 280.05 67.41 280.00 67.52 279.95 C67.63 279.90 67.76 279.85 67.87 279.80 C67.98 279.75 68.10 279.70 68.21 279.66 C68.32 279.62 68.44 279.59 68.55 279.55 C68.66 279.51 68.78 279.48 68.89 279.45 C69.00 279.42 69.12 279.39 69.23 279.37 C69.34 279.35 69.45 279.33 69.57 279.31 C69.68 279.29 69.81 279.28 69.92 279.27 C70.03 279.26 70.15 279.25 70.26 279.25 C70.37 279.25 70.49 279.25 70.60 279.25 C70.71 279.25 70.83 279.25 70.94 279.26 C71.05 279.27 71.17 279.28 71.28 279.30 C71.39 279.32 71.51 279.34 71.62 279.36 C71.73 279.38 71.84 279.40 71.96 279.43 C72.07 279.46 72.19 279.49 72.31 279.53 C72.43 279.57 72.54 279.61 72.65 279.65 C72.76 279.69 72.88 279.74 72.99 279.79 C73.10 279.84 73.22 279.89 73.33 279.95 C73.44 280.01 73.56 280.07 73.67 280.13 C73.78 280.19 73.90 280.26 74.01 280.33 C74.12 280.40 74.25 280.48 74.36 280.56 C74.47 280.64 74.59 280.72 74.70 280.81 C74.81 280.90 74.93 280.99 75.04 281.08 C75.15 281.17 75.27 281.27 75.38 281.37 C75.49 281.47 75.61 281.58 75.72 281.69 C75.83 281.80 75.95 281.91 76.06 282.03 C76.17 282.15 76.30 282.26 76.41 282.39 C76.52 282.52 76.64 282.65 76.75 282.79 C76.86 282.93 76.98 283.08 77.09 283.23 C77.20 283.38 77.32 283.55 77.43 283.72 C77.54 283.89 77.66 284.08 77.77 284.27 C77.88 284.46 78.00 284.66 78.11 284.88 C78.22 285.10 78.34 285.33 78.45 285.57 C78.56 285.81 78.69 286.07 78.80 286.34 C78.91 286.61 79.03 286.89 79.14 287.19 C79.25 287.49 79.37 287.79 79.48 288.11 C79.59 288.43 79.71 288.76 79.82 289.09 C79.93 289.42 80.05 289.76 80.16 290.11 C80.27 290.46 80.39 290.82 80.50 291.18 C80.61 291.54 80.73 291.90 80.85 292.27 C80.96 292.64 81.08 293.02 81.19 293.39 C81.30 293.76 81.42 294.14 81.53 294.51 C81.64 294.88 81.76 295.26 81.87 295.63 C81.98 296.00 82.10 296.38 82.21 296.75 C82.32 297.12 82.44 297.50 82.55 297.87 C82.66 298.24 82.78 298.62 82.89 298.99 C83.00 299.36 83.12 299.73 83.24 300.10 C83.35 300.47 83.47 300.85 83.58 301.22 C83.69 301.59 83.81 301.97 83.92 302.34 C84.03 302.71 84.15 303.08 84.26 303.46 C84.37 303.83 84.49 304.21 84.60 304.59 C84.71 304.97 84.82 305.34 84.94 305.72 C85.06 306.10 85.18 306.48 85.29 306.86 C85.41 307.24 85.52 307.62 85.63 308.00 C85.74 308.38 85.86 308.77 85.97 309.16 C86.08 309.55 86.20 309.93 86.31 310.32 C86.42 310.71 86.54 311.10 86.65 311.49 C86.76 311.88 86.88 312.27 86.99 312.67 C87.10 313.07 87.22 313.47 87.33 313.87 C87.44 314.27 87.57 314.67 87.68 315.08 C87.80 315.49 87.91 315.89 88.02 316.30 C88.13 316.71 88.25 317.12 88.36 317.54 C88.47 317.96 88.59 318.38 88.70 318.80 C88.81 319.22 88.93 319.64 89.04 320.07 C89.15 320.50 89.27 320.93 89.38 321.36 C89.49 321.79 89.62 322.23 89.73 322.67 C89.84 323.11 89.68 322.48 90.07 324.00 C90.46 325.52 91.74 330.49 92.07 331.79"/>
</g>
<g fill="none" stroke="#000" stroke-width="1.25">
<rect x="66.5" y="35.7" width="288.7" height="288.3"/>
<g stroke-width="1.1"><path d="M66.50 324.00 v-4.20 M66.50 35.70 v4.20"/><path d="M95.37 324.00 v-4.20 M95.37 35.70 v4.20"/><path d="M124.24 324.00 v-4.20 M124.24 35.70 v4.20"/><path d="M153.11 324.00 v-4.20 M153.11 35.70 v4.20"/><path d="M181.98 324.00 v-4.20 M181.98 35.70 v4.20"/><path d="M210.85 324.00 v-4.20 M210.85 35.70 v4.20"/><path d="M239.72 324.00 v-4.20 M239.72 35.70 v4.20"/><path d="M268.59 324.00 v-4.20 M268.59 35.70 v4.20"/><path d="M297.46 324.00 v-4.20 M297.46 35.70 v4.20"/><path d="M326.33 324.00 v-4.20 M326.33 35.70 v4.20"/><path d="M355.20 324.00 v-4.20 M355.20 35.70 v4.20"/><path d="M66.50 324.00 h4.20 M355.20 324.00 h-4.20"/><path d="M66.50 251.93 h4.20 M355.20 251.93 h-4.20"/><path d="M66.50 179.85 h4.20 M355.20 179.85 h-4.20"/><path d="M66.50 107.77 h4.20 M355.20 107.77 h-4.20"/><path d="M66.50 35.70 h4.20 M355.20 35.70 h-4.20"/></g>
</g>
<g font-size="20" fill="#000">
<path transform="translate(63.20,42.50)" d="M0 0V-14.4H-1.5C-1.8 -12.8 -3.5 -11.5 -5.8 -11.2V-9.6C-4.2 -9.8 -2.9 -10.3 -2 -11.2V0Z" fill="#000"/>
<text x="63.4" y="186.7" text-anchor="end">0.5</text>
<text x="63.4" y="331.5" text-anchor="end">0</text>
<text x="67.5" y="343" text-anchor="middle">0</text>
<text x="124.6" y="343" text-anchor="middle">0.05</text>
<text x="170.0" y="343">0.</text><path transform="translate(194.50,343.00)" d="M0 0V-14.4H-1.5C-1.8 -12.8 -3.5 -11.5 -5.8 -11.2V-9.6C-4.2 -9.8 -2.9 -10.3 -2 -11.2V0Z" fill="#000"/>
<text x="221.1" y="343">0.</text><path transform="translate(244.80,343.00)" d="M0 0V-14.4H-1.5C-1.8 -12.8 -3.5 -11.5 -5.8 -11.2V-9.6C-4.2 -9.8 -2.9 -10.3 -2 -11.2V0Z" fill="#000"/><text x="248.7" y="343">5</text>
<text x="297.8" y="343" text-anchor="middle">0.2</text>
<text x="355.6" y="343" text-anchor="middle">0.25</text>
</g>
<g font-size="20" fill="#0000ff">
<text x="26.6" y="128.6">R=</text><path transform="translate(60.20,128.60)" d="M0 0V-14.4H-1.5C-1.8 -12.8 -3.5 -11.5 -5.8 -11.2V-9.6C-4.2 -9.8 -2.9 -10.3 -2 -11.2V0Z" fill="#0000ff"/>
<text x="63" y="213.1" text-anchor="end">R=2</text>
<text x="39.5" y="236.7" text-anchor="end">R=3</text>
<text x="39.5" y="256.2" text-anchor="end">4</text>
<text x="39.5" y="274.3" text-anchor="end">5</text>
<text x="39.5" y="291.9" text-anchor="end">6</text>
<text x="39.5" y="309.2" text-anchor="end">7</text>
</g>
<g fill="none" stroke="#0000ff" stroke-width="1.4" stroke-linecap="butt" stroke-linejoin="miter">
<path d="M42.00 231.20 L60.80 237.60 M53.85 230.69 L60.80 237.60 L51.08 238.83"/>
<path d="M42.90 249.00 L61.70 255.20 M54.68 248.36 L61.70 255.20 L51.99 256.52"/>
<path d="M42.90 267.40 L61.90 267.40 M53.09 263.10 L61.90 267.40 L53.09 271.70"/>
<path d="M43.35 286.50 L62.65 275.70 M52.87 276.25 L62.65 275.70 L57.06 283.75"/>
<path d="M42.90 302.20 L61.70 285.20 M52.29 287.92 L61.70 285.20 L58.05 294.29"/>

</g>
<g font-size="20" fill="#ff0000">
<text x="358.7" y="68.5">M=5</text>
<text x="357.5" y="174.8">M=2</text>
<text transform="translate(281.8,29.4) rotate(-19)">M=20</text>
<g transform="translate(337.0,31.5) rotate(-19)"><text>M=</text><path transform="translate(35.4,0)" d="M0 0V-14.4H-1.5C-1.8 -12.8 -3.5 -11.5 -5.8 -11.2V-9.6C-4.2 -9.8 -2.9 -10.3 -2 -11.2V0Z"/><text x="39.46">0</text></g>
</g>
<g id="lambda" fill="none" stroke="#000" stroke-linecap="round" stroke-linejoin="round">
<path d="M3.5 184.4 C1.6 184.3 0.3 183.4 0.5 182.1 C0.9 180.5 3.5 179.7 7.1 179.1 C10 178.65 12.5 178.1 14.5 177.1 C16.2 176.2 17 175.4 16.7 174.8" stroke-width="1.3"/>
<path d="M14.3 174.2 C15.6 174.0 16.5 174.5 16.6 175.3 C16.6 176.1 15.8 176.8 14.6 177.2" stroke-width="1.9"/>
<path d="M0.9 182.6 C0.8 183.6 1.9 184.3 3.5 184.5" stroke-width="1.7"/>
<path d="M6.8 179.9 L17.2 184.9" stroke-width="2.1" stroke-linecap="butt"/>
</g>
<text x="198.6" y="359.9" font-size="26" style="font-family:'Liberation Serif',serif" fill="#000" stroke="#000" stroke-width="0.35">ω</text>
<text x="214.6" y="368.7" font-size="16.5" fill="#000">0</text>

</svg>
</body></html>
